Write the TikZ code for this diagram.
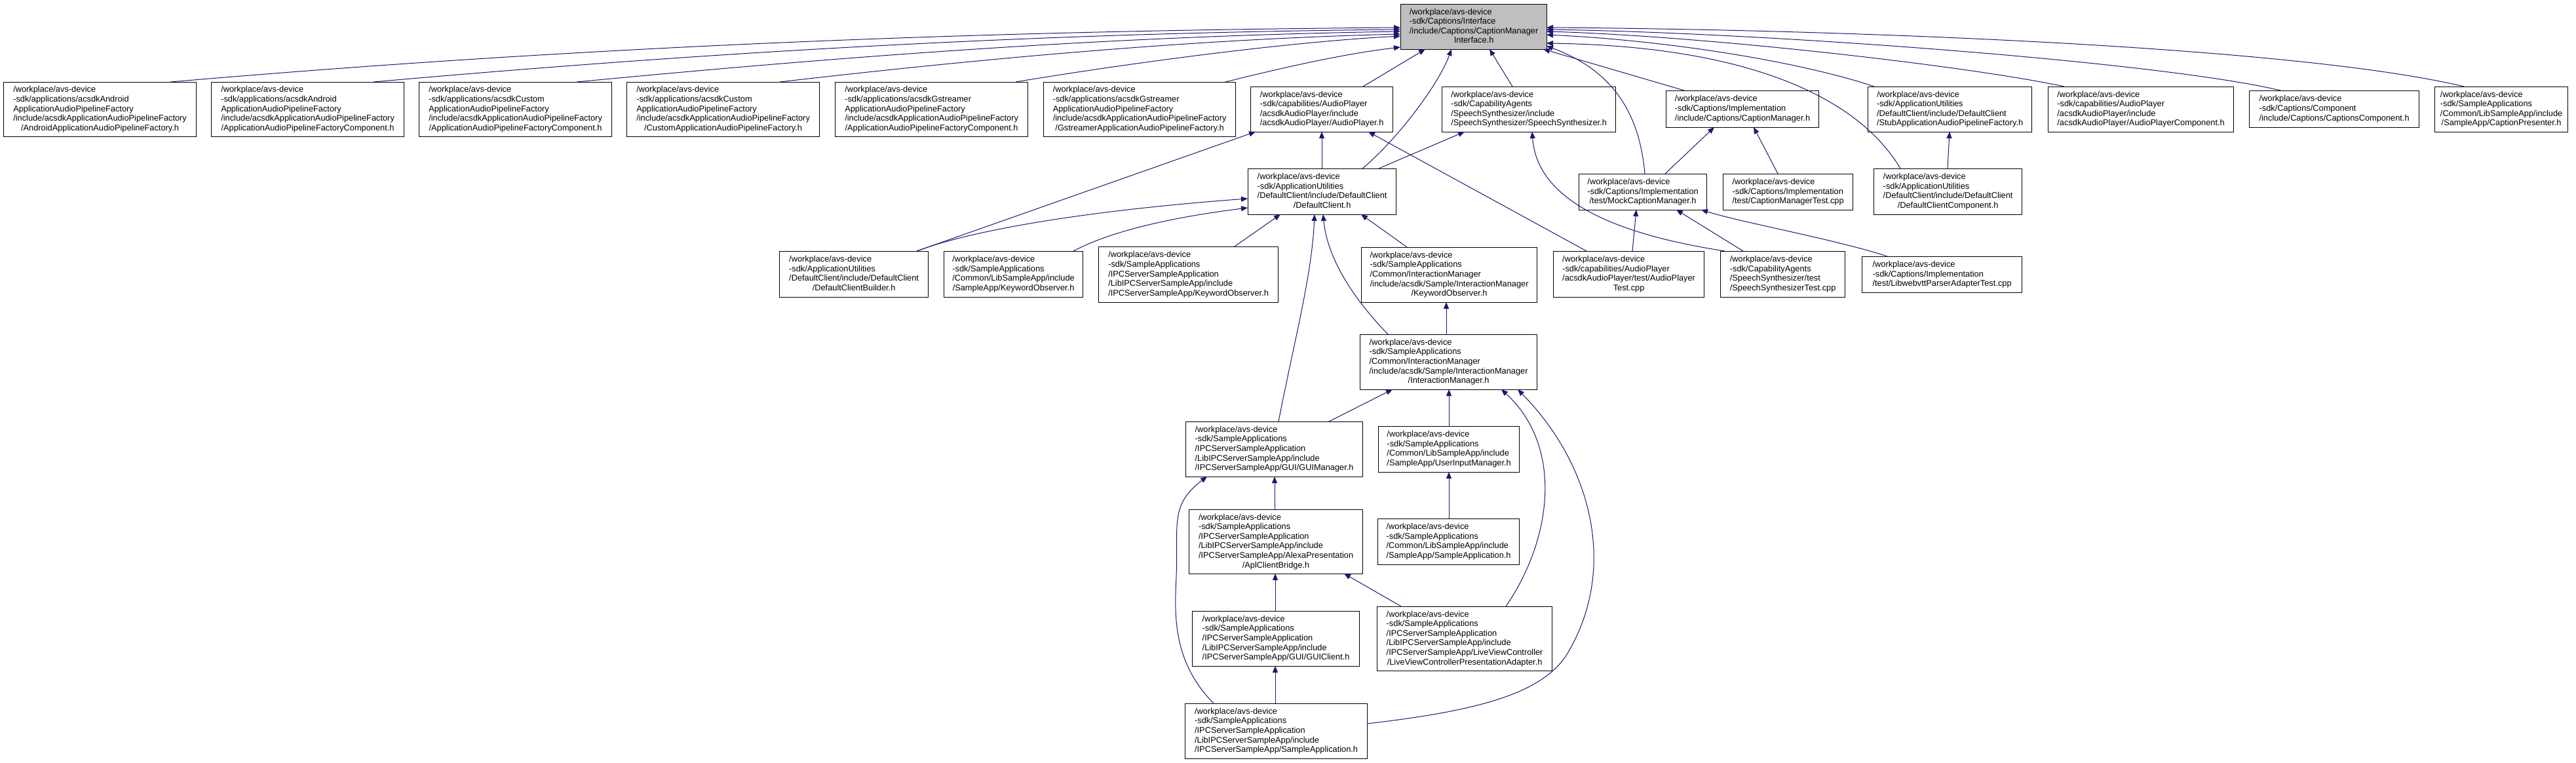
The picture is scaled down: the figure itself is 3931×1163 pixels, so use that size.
\documentclass[tikz,border=0pt]{standalone}
\usepackage{fontspec}
\setmainfont{Liberation Sans}
\usetikzlibrary{arrows.meta}
\definecolor{edgec}{RGB}{25,25,112}
\definecolor{topfill}{RGB}{191,191,191}
\newcommand\tx[2]{\begin{tabular}{@{}l@{}}#1\\\multicolumn{1}{@{}c@{}}{#2}\end{tabular}}
\tikzset{
  box/.style={draw=black,line width=1.2pt,fill=white,inner sep=0pt,anchor=north west,
    font=\fontsize{12.8}{14.6}\selectfont},
  edge/.style={draw=edgec,line width=1pt,-{Triangle[length=10pt,width=8pt]}}
}
\newcommand\bx[7][]{\node[box,#1,minimum width={#5pt-#3pt},minimum height={#6pt-#4pt}] (#2) at (#3,#4) {#7};}
\begin{document}
\begin{tikzpicture}[x=1pt,y=-1pt]
\useasboundingbox[fill=white] (0,0) rectangle (3931,1163);
% top node
\bx[fill=topfill]{cmi}{2137}{6}{2360}{75}{\tx{/workplace/avs-device\\-sdk/Captions/Interface\\/include/Captions/CaptionManager}{Interface.h}}
% row 1
\bx{a1}{5}{125}{299}{208}{\tx{/workplace/avs-device\\-sdk/applications/acsdkAndroid\\ApplicationAudioPipelineFactory\\/include/acsdkApplicationAudioPipelineFactory}{/AndroidApplicationAudioPipelineFactory.h}}
\bx{a2}{322}{125}{616}{208}{\tx{/workplace/avs-device\\-sdk/applications/acsdkAndroid\\ApplicationAudioPipelineFactory\\/include/acsdkApplicationAudioPipelineFactory}{/ApplicationAudioPipelineFactoryComponent.h}}
\bx{a3}{639}{125}{933}{208}{\tx{/workplace/avs-device\\-sdk/applications/acsdkCustom\\ApplicationAudioPipelineFactory\\/include/acsdkApplicationAudioPipelineFactory}{/ApplicationAudioPipelineFactoryComponent.h}}
\bx{a4}{956}{125}{1250}{208}{\tx{/workplace/avs-device\\-sdk/applications/acsdkCustom\\ApplicationAudioPipelineFactory\\/include/acsdkApplicationAudioPipelineFactory}{/CustomApplicationAudioPipelineFactory.h}}
\bx{a5}{1274}{125}{1568}{208}{\tx{/workplace/avs-device\\-sdk/applications/acsdkGstreamer\\ApplicationAudioPipelineFactory\\/include/acsdkApplicationAudioPipelineFactory}{/ApplicationAudioPipelineFactoryComponent.h}}
\bx{a6}{1592}{125}{1885}{208}{\tx{/workplace/avs-device\\-sdk/applications/acsdkGstreamer\\ApplicationAudioPipelineFactory\\/include/acsdkApplicationAudioPipelineFactory}{/GstreamerApplicationAudioPipelineFactory.h}}
\bx{ap}{1908}{132}{2125}{201}{\tx{/workplace/avs-device\\-sdk/capabilities/AudioPlayer\\/acsdkAudioPlayer/include}{/acsdkAudioPlayer/AudioPlayer.h}}
\bx{ss}{2200}{132}{2465}{201}{\tx{/workplace/avs-device\\-sdk/CapabilityAgents\\/SpeechSynthesizer/include}{/SpeechSynthesizer/SpeechSynthesizer.h}}
\bx{cm}{2542}{138}{2775}{194}{\tx{/workplace/avs-device\\-sdk/Captions/Implementation}{/include/Captions/CaptionManager.h}}
\bx{stub}{2850}{132}{3100}{201}{\tx{/workplace/avs-device\\-sdk/ApplicationUtilities\\/DefaultClient/include/DefaultClient}{/StubApplicationAudioPipelineFactory.h}}
\bx{apc}{3125}{132}{3408}{201}{\tx{/workplace/avs-device\\-sdk/capabilities/AudioPlayer\\/acsdkAudioPlayer/include}{/acsdkAudioPlayer/AudioPlayerComponent.h}}
\bx{cc}{3432}{138}{3691}{194}{\tx{/workplace/avs-device\\-sdk/Captions/Component}{/include/Captions/CaptionsComponent.h}}
\bx{cp}{3715}{132}{3918}{201}{\tx{/workplace/avs-device\\-sdk/SampleApplications\\/Common/LibSampleApp/include}{/SampleApp/CaptionPresenter.h}}
% row 2
\bx{dc}{1904}{257}{2130}{327}{\tx{/workplace/avs-device\\-sdk/ApplicationUtilities\\/DefaultClient/include/DefaultClient}{/DefaultClient.h}}
\bx{mcm}{2409}{265}{2604}{320}{\tx{/workplace/avs-device\\-sdk/Captions/Implementation}{/test/MockCaptionManager.h}}
\bx{cmt}{2629}{265}{2827}{320}{\tx{/workplace/avs-device\\-sdk/Captions/Implementation}{/test/CaptionManagerTest.cpp}}
\bx{dcc}{2859}{257}{3085}{327}{\tx{/workplace/avs-device\\-sdk/ApplicationUtilities\\/DefaultClient/include/DefaultClient}{/DefaultClientComponent.h}}
% row 3
\bx{dcb}{1189}{383}{1416}{453}{\tx{/workplace/avs-device\\-sdk/ApplicationUtilities\\/DefaultClient/include/DefaultClient}{/DefaultClientBuilder.h}}
\bx{ko1}{1440}{383}{1652}{453}{\tx{/workplace/avs-device\\-sdk/SampleApplications\\/Common/LibSampleApp/include}{/SampleApp/KeywordObserver.h}}
\bx{ko2}{1676}{376}{1950}{461}{\tx{/workplace/avs-device\\-sdk/SampleApplications\\/IPCServerSampleApplication\\/LibIPCServerSampleApp/include}{/IPCServerSampleApp/KeywordObserver.h}}
\bx{ko3}{2077}{377}{2345}{461}{\tx{/workplace/avs-device\\-sdk/SampleApplications\\/Common/InteractionManager\\/include/acsdk/Sample/InteractionManager}{/KeywordObserver.h}}
\bx{apt}{2370}{383}{2600}{453}{\tx{/workplace/avs-device\\-sdk/capabilities/AudioPlayer\\/acsdkAudioPlayer/test/AudioPlayer}{Test.cpp}}
\bx{sst}{2625}{383}{2815}{453}{\tx{/workplace/avs-device\\-sdk/CapabilityAgents\\/SpeechSynthesizer/test}{/SpeechSynthesizerTest.cpp}}
\bx{lwt}{2841}{391}{3085}{446}{\tx{/workplace/avs-device\\-sdk/Captions/Implementation}{/test/LibwebvttParserAdapterTest.cpp}}
% lower rows
\bx{im}{2075}{510}{2345}{594}{\tx{/workplace/avs-device\\-sdk/SampleApplications\\/Common/InteractionManager\\/include/acsdk/Sample/InteractionManager}{/InteractionManager.h}}
\bx{guim}{1809}{643}{2079}{727}{\tx{/workplace/avs-device\\-sdk/SampleApplications\\/IPCServerSampleApplication\\/LibIPCServerSampleApp/include}{/IPCServerSampleApp/GUI/GUIManager.h}}
\bx{uim}{2103}{650}{2318}{720}{\tx{/workplace/avs-device\\-sdk/SampleApplications\\/Common/LibSampleApp/include}{/SampleApp/UserInputManager.h}}
\bx{acb}{1814}{777}{2079}{875}{\tx{/workplace/avs-device\\-sdk/SampleApplications\\/IPCServerSampleApplication\\/LibIPCServerSampleApp/include\\/IPCServerSampleApp/AlexaPresentation}{/AplClientBridge.h}}
\bx{sa1}{2102}{791}{2318}{861}{\tx{/workplace/avs-device\\-sdk/SampleApplications\\/Common/LibSampleApp/include}{/SampleApp/SampleApplication.h}}
\bx{guic}{1819}{932}{2074}{1016}{\tx{/workplace/avs-device\\-sdk/SampleApplications\\/IPCServerSampleApplication\\/LibIPCServerSampleApp/include}{/IPCServerSampleApp/GUI/GUIClient.h}}
\bx{lvc}{2101}{925}{2368}{1023}{\tx{/workplace/avs-device\\-sdk/SampleApplications\\/IPCServerSampleApplication\\/LibIPCServerSampleApp/include\\/IPCServerSampleApp/LiveViewController}{/LiveViewControllerPresentationAdapter.h}}
\bx{sa2}{1808}{1073}{2086}{1157}{\tx{/workplace/avs-device\\-sdk/SampleApplications\\/IPCServerSampleApplication\\/LibIPCServerSampleApp/include}{/IPCServerSampleApp/SampleApplication.h}}

% edges into top node
\draw[edge] ([shift={(255,0)}]a1.north west) .. controls (900,70) and (1500,47) .. ([shift={(0,36)}]cmi.north west);
\draw[edge] ([shift={(248,0)}]a2.north west) .. controls (1100,78) and (1600,50) .. ([shift={(0,39)}]cmi.north west);
\draw[edge] ([shift={(241,0)}]a3.north west) .. controls (1300,85) and (1700,55) .. ([shift={(0,42)}]cmi.north west);
\draw[edge] ([shift={(234,0)}]a4.north west) .. controls (1450,95) and (1800,60) .. ([shift={(0,46)}]cmi.north west);
\draw[edge] ([shift={(276,0)}]a5.north west) .. controls (1700,100) and (1950,65) .. ([shift={(0,49)}]cmi.north west);
\draw[edge] ([shift={(278,0)}]a6.north west) .. controls (1950,105) and (2050,82) .. ([shift={(0,66)}]cmi.north west);
\draw[edge] ([shift={(172,0)}]ap.north west) -- ([shift={(38,69)}]cmi.north west);
\draw[edge] ([shift={(175,0)}]dc.north west) .. controls (2130,215) and (2195,130) .. ([shift={(78,69)}]cmi.north west);
\draw[edge] ([shift={(108,0)}]ss.north west) -- ([shift={(136,69)}]cmi.north west);
\draw[edge] ([shift={(101,0)}]mcm.north west) .. controls (2500,150) and (2440,100) .. ([shift={(223,64)}]cmi.north west);
\draw[edge] ([shift={(28,0)}]cm.north west) -- ([shift={(218,69)}]cmi.north west);
\draw[edge] ([shift={(41,0)}]dcc.north west) .. controls (2830,140) and (2650,70) .. ([shift={(223,60)}]cmi.north west);
\draw[edge] ([shift={(10,0)}]stub.north west) .. controls (2750,95) and (2550,62) .. ([shift={(223,47)}]cmi.north west);
\draw[edge] ([shift={(25,0)}]apc.north west) .. controls (3000,100) and (2600,55) .. ([shift={(223,42)}]cmi.north west);
\draw[edge] ([shift={(48,0)}]cc.north west) .. controls (3300,95) and (2700,50) .. ([shift={(223,39)}]cmi.north west);
\draw[edge] ([shift={(45,0)}]cp.north west) .. controls (3500,70) and (2800,45) .. ([shift={(223,36)}]cmi.north west);
% row 2/3 edges
\draw[edge] ([shift={(113,0)}]dc.north west) -- ([shift={(109,69)}]ap.north west);
\draw[edge] ([shift={(200,0)}]dc.north west) -- ([shift={(35,69)}]ss.north west);
\draw[edge] ([shift={(210,0)}]dcb.north west) -- ([shift={(8,69)}]ap.north west);
\draw[edge] ([shift={(210,0)}]dcb.north west) .. controls (1500,345) and (1700,318) .. ([shift={(0,46)}]dc.north west);
\draw[edge] ([shift={(198,0)}]ko1.north west) .. controls (1700,350) and (1800,330) .. ([shift={(0,60)}]dc.north west);
\draw[edge] ([shift={(208,0)}]ko2.north west) -- ([shift={(50,70)}]dc.north west);
\draw[edge] ([shift={(70,0)}]ko3.north west) -- ([shift={(173,70)}]dc.north west);
\draw[edge] ([shift={(43,0)}]im.north west) .. controls (2060,450) and (2025,390) .. ([shift={(115,70)}]dc.north west);
\draw[edge] ([shift={(142,0)}]guim.north west) .. controls (1975,520) and (2002,420) .. ([shift={(102,70)}]dc.north west);
\draw[edge] ([shift={(132,0)}]im.north west) -- ([shift={(130,84)}]ko3.north west);
\draw[edge] ([shift={(51,0)}]apt.north west) -- ([shift={(180,69)}]ap.north west);
\draw[edge] ([shift={(121,0)}]apt.north west) -- ([shift={(88,55)}]mcm.north west);
\draw[edge] ([shift={(7,0)}]sst.north west) .. controls (2450,355) and (2345,300) .. ([shift={(138,69)}]ss.north west);
\draw[edge] ([shift={(35,0)}]sst.north west) -- ([shift={(149,55)}]mcm.north west);
\draw[edge] ([shift={(39,0)}]lwt.north west) .. controls (2800,365) and (2660,340) .. ([shift={(187,55)}]mcm.north west);
\draw[edge] ([shift={(132,0)}]mcm.north west) -- ([shift={(74,56)}]cm.north west);
\draw[edge] ([shift={(84,0)}]cmt.north west) -- ([shift={(134,56)}]cm.north west);
\draw[edge] ([shift={(113,0)}]dcc.north west) -- ([shift={(125,69)}]stub.north west);
% lower edges
\draw[edge] ([shift={(219,0)}]guim.north west) -- ([shift={(50,84)}]im.north west);
\draw[edge] ([shift={(108,0)}]uim.north west) -- ([shift={(136,84)}]im.north west);
\draw[edge] ([shift={(197,0)}]lvc.north west) .. controls (2370,820) and (2385,680) .. ([shift={(216,84)}]im.north west);
\draw[edge] ([shift={(278,31)}]sa2.north west) .. controls (2250,1085) and (2350,1060) .. (2390,1000) .. controls (2470,870) and (2430,710) .. ([shift={(241,84)}]im.north west);
\draw[edge] ([shift={(131,0)}]acb.north west) -- ([shift={(136,84)}]guim.north west);
\draw[edge] ([shift={(44,0)}]sa2.north west) .. controls (1790,1010) and (1792,940) .. (1795,880) .. controls (1798,800) and (1785,770) .. ([shift={(33,84)}]guim.north west);
\draw[edge] ([shift={(109,0)}]sa1.north west) -- ([shift={(108,70)}]uim.north west);
\draw[edge] ([shift={(127,0)}]guic.north west) -- ([shift={(132,98)}]acb.north west);
\draw[edge] ([shift={(37,0)}]lvc.north west) -- ([shift={(237,98)}]acb.north west);
\draw[edge] ([shift={(138,0)}]sa2.north west) -- ([shift={(127,84)}]guic.north west);
\end{tikzpicture}
\end{document}
